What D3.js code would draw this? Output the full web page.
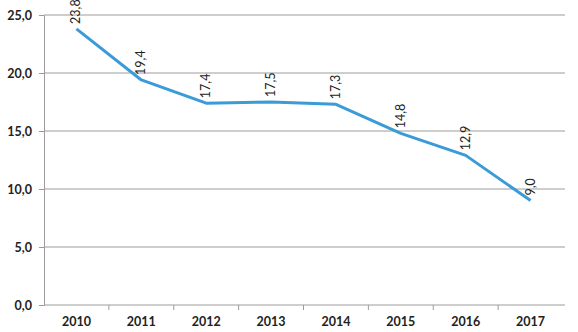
<!DOCTYPE html>
<html>
<head>
<meta charset="utf-8">
<script src="https://cdn.jsdelivr.net/npm/d3@7"></script>
<style>
body{margin:0;background:#fff;}
svg{display:block;}
</style>
</head>
<body>
<div id="chart"></div>
<script>
let w = 578;
let h = 332;

let years = ["2010","2011","2012","2013","2014","2015","2016","2017"];
let values = [23.8, 19.4, 17.4, 17.5, 17.3, 14.8, 12.9, 9.0];
let yTicks = [0, 5, 10, 15, 20, 25];

let padL = 44, padR = 563, padT = 15, padB = 305;
let fmt = d => d.toFixed(1).replace(".", ",");
let font = "Lato, 'Open Sans', sans-serif";

let viz = d3.select("#chart").append("svg")
  .attr("width", w)
  .attr("height", h);

let xScale = d3.scaleBand().domain(years).range([padL, padR]);
let yScale = d3.scaleLinear().domain([0, 25]).range([padB, padT]);

// gridlines
viz.selectAll(".grid").data(yTicks.slice(1)).enter()
  .append("line")
  .attr("x1", padL).attr("x2", padR + 2)
  .attr("y1", d => yScale(d)).attr("y2", d => yScale(d))
  .attr("stroke", "#9c9c9c").attr("stroke-width", 1);

// y axis
let yAxis = d3.axisLeft(yScale).tickValues(yTicks).tickFormat(fmt).tickSize(5).tickPadding(7);
let yg = viz.append("g").attr("transform", "translate(" + padL + ",0)").call(yAxis);
yg.select(".domain").attr("stroke", "#9c9c9c");
yg.selectAll(".tick line").attr("stroke", "#9c9c9c");
yg.selectAll("text").attr("fill", "#222").style("font-family", font).style("font-size", "12.5px").style("font-weight", "bold");

// x axis
let xAxis = d3.axisBottom(xScale).tickSize(0).tickPadding(12);
let xg = viz.append("g").attr("transform", "translate(0," + padB + ")").call(xAxis);
xg.select(".domain").attr("stroke", "#9c9c9c").attr("d", "M" + padL + ",0H" + (padR + 2));
xg.selectAll("text").attr("fill", "#222").style("font-family", font).style("font-size", "12.5px").style("font-weight", "bold");
// category separator ticks
viz.selectAll(".sep").data(years.slice(1)).enter()
  .append("line")
  .attr("x1", d => xScale(d)).attr("x2", d => xScale(d))
  .attr("y1", padB).attr("y2", padB + 5)
  .attr("stroke", "#9c9c9c");

// line
let line = d3.line()
  .x((d, i) => xScale(years[i]) + xScale.bandwidth() / 2)
  .y(d => yScale(d));

viz.append("path")
  .datum(values)
  .attr("d", line)
  .attr("fill", "none")
  .attr("stroke", "#3b9bd8")
  .attr("stroke-width", 3)
  .attr("stroke-linejoin", "round");

// value labels
viz.selectAll(".lbl").data(values).enter()
  .append("text")
  .attr("transform", (d, i) => "translate(" + (xScale(years[i]) + xScale.bandwidth() / 2 + 4) + "," + (yScale(d) - 5) + ") rotate(-90)")
  .attr("text-anchor", "start")
  .attr("fill", "#222")
  .style("font-family", font)
  .style("font-size", "12.5px")
  .text(d => fmt(d));
</script>
</body>
</html>
